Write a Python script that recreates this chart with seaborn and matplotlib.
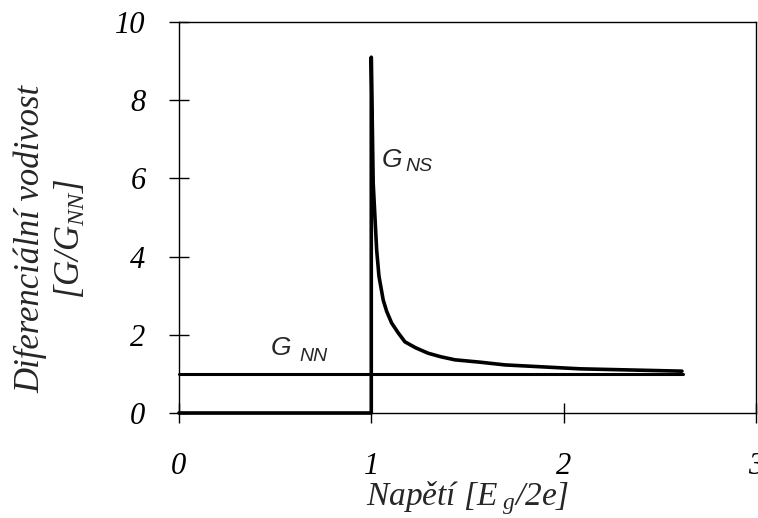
import pandas as pd
import matplotlib.pyplot as plt
import seaborn as sns

# values
ns_voltage = [0.0, 1.0, 1.0, 1.010, 1.028, 1.040, 1.062, 1.080, 1.106, 1.140, 1.175,
              1.230, 1.295, 1.360, 1.435, 1.565, 1.695, 2.085, 2.615]
ns_conductance = [0.0, 0.0, 9.1, 5.88, 4.17, 3.50, 2.89, 2.60, 2.30, 2.05, 1.82,
                  1.67, 1.53, 1.44, 1.36, 1.30, 1.23, 1.13, 1.07]
nn_voltage = [0.0, 2.62]
nn_conductance = [1.0, 1.0]

sns.set_theme(style='ticks')
plt.rcParams.update({
    'font.family': ['Liberation Serif', 'DejaVu Serif'],
    'font.style': 'italic',
    'mathtext.fontset': 'custom',
    'mathtext.it': 'Liberation Serif:italic',
    'mathtext.rm': 'Liberation Serif:italic',
    'axes.edgecolor': 'black',
    'axes.linewidth': 1.0,
})

df_ns = pd.DataFrame({'V': ns_voltage, 'G': ns_conductance})
df_nn = pd.DataFrame({'V': nn_voltage, 'G': nn_conductance})

fig = plt.figure(figsize=(7.58, 5.18), dpi=100)
ax = fig.add_axes([0.236, 0.2027, 0.7614, 0.7548])

sns.lineplot(x='V', y='G', data=df_ns, sort=False, estimator=None, color='black',
             linewidth=2.6, ax=ax, clip_on=False)
sns.lineplot(x='V', y='G', data=df_nn, sort=False, estimator=None, color='black',
             linewidth=2.2, ax=ax, clip_on=False)

ax.set_xlim(0, 3)
ax.set_ylim(0, 10)
ax.set_xticks([0, 1, 2, 3])
ax.set_yticks([0, 2, 4, 6, 8, 10])
ax.tick_params(direction='inout', length=14, width=1, colors='black',
               labelsize=22, pad=17, bottom=True, left=True)
ax.tick_params(axis='x', pad=21)
for lab in ax.get_xticklabels() + ax.get_yticklabels():
    lab.set_fontstyle('italic')

ax.set_xlabel('Napětí [$E_{\\ g}$/2e]', fontsize=24, fontstyle='italic')
ax.xaxis.set_label_coords(0.5, -0.168)
ax.set_ylabel('Diferenciální vodivost\n[$G/G_{NN}$]', fontsize=25,
              fontstyle='italic', linespacing=1.25)
ax.yaxis.set_label_coords(-0.158, 0.445)

sans = ['Liberation Sans', 'DejaVu Sans']
ax.text(1.055, 6.3, 'G', fontsize=19, family=sans, style='italic')
ax.text(1.18, 6.18, 'NS', fontsize=14, family=sans, style='italic')
ax.text(0.475, 1.48, 'G', fontsize=19, family=sans, style='italic')
ax.text(0.625, 1.33, 'NN', fontsize=14, family=sans, style='italic')

plt.savefig('out.png', dpi=100)
plt.close()
